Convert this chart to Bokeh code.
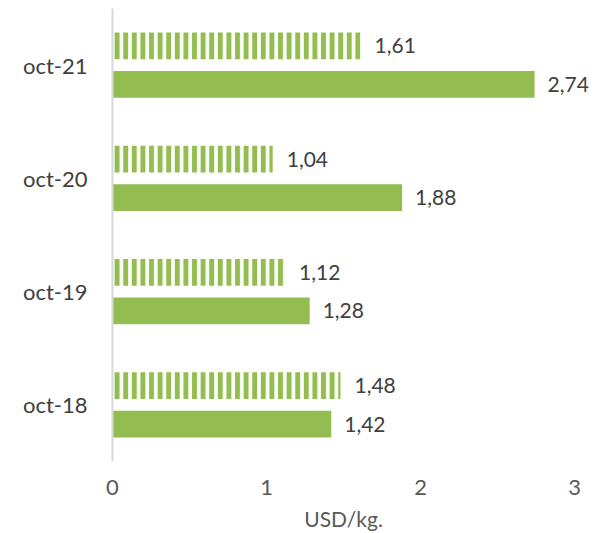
from bokeh.plotting import figure
from bokeh.models import FactorRange, FixedTicker, ColumnDataSource, LinearAxis
from bokeh.transform import dodge
from bokeh.core.properties import value
from bokeh.embed import file_html
from bokeh.resources import INLINE

categories = ["oct-18", "oct-19", "oct-20", "oct-21"]
hatched_values = [1.48, 1.12, 1.04, 1.61]
solid_values = [1.42, 1.28, 1.88, 2.74]
x_ticks = [0, 1, 2, 3]
x_label = "USD/kg."

GREEN = "#93BD50"
FONT = "Lato"

def fmt(v):
    return f"{v:.2f}".replace(".", ",")

src = ColumnDataSource(dict(
    cat=categories,
    hv=hatched_values,
    sv=solid_values,
    hl=[fmt(v) for v in hatched_values],
    sl=[fmt(v) for v in solid_values],
))

p = figure(width=612, height=533, output_backend="svg", toolbar_location=None,
           y_range=FactorRange(*categories, range_padding=0),
           x_range=(0, 3.155),
           min_border_left=112, min_border_right=14, min_border_top=8, min_border_bottom=71)

p.hbar(y=dodge("cat", 0.17, range=p.y_range), right="hv", left=0, height=0.235, source=src,
       fill_color="white", line_color=None, hatch_pattern="vertical_line",
       hatch_color=GREEN, hatch_weight=5, hatch_scale=8.6)
p.hbar(y=dodge("cat", -0.17, range=p.y_range), right="sv", left=0, height=0.235, source=src,
       fill_color=GREEN, line_color=None)

p.text(x="hv", y=dodge("cat", 0.17, range=p.y_range), text="hl", source=src,
       x_offset=14, text_baseline="middle", text_font=value(FONT), text_font_size="21px",
       text_color="#404040")
p.text(x="sv", y=dodge("cat", -0.17, range=p.y_range), text="sl", source=src,
       x_offset=13, text_baseline="middle", text_font=value(FONT), text_font_size="21px",
       text_color="#404040")

xa = p.xaxis[0]
xa.ticker = FixedTicker(ticks=x_ticks)
xa.axis_line_color = None
xa.major_tick_line_color = None
xa.minor_tick_line_color = None
xa.major_label_standoff = 12
xa.major_label_text_font = FONT
xa.major_label_text_font_size = "22px"
xa.major_label_text_color = "#595959"

# axis title drawn as a single label centred at the middle of the 0-3 scale
mid = (x_ticks[0] + x_ticks[-1]) / 2
la = LinearAxis(ticker=FixedTicker(ticks=[mid]), major_label_overrides={mid: x_label},
                axis_line_color=None, major_tick_line_color=None, minor_tick_line_color=None,
                major_label_standoff=2, major_label_text_font=FONT,
                major_label_text_font_size="21px", major_label_text_color="#595959")
p.add_layout(la, "below")

p.yaxis.axis_line_color = "#d9d9d9"
p.yaxis.axis_line_width = 2
p.yaxis.major_tick_line_color = None
p.yaxis.minor_tick_line_color = None
p.yaxis.major_label_standoff = 19
p.yaxis.major_label_text_font = FONT
p.yaxis.major_label_text_font_size = "22px"
p.yaxis.major_label_text_color = "#404040"

p.xgrid.grid_line_color = None
p.ygrid.grid_line_color = None
p.outline_line_color = None

open("out.html", "w").write(file_html(p, INLINE))
